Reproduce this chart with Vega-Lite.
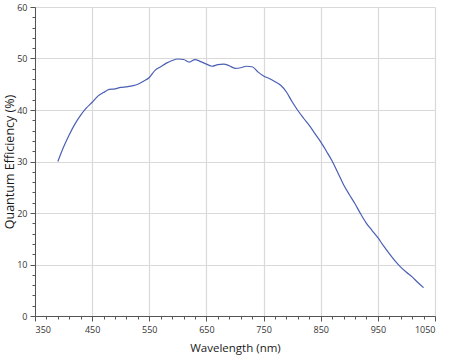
{
  "$schema": "https://vega.github.io/schema/vega-lite/v6.json",
  "width": 400,
  "height": 309,
  "autosize": {"type": "none"},
  "padding": {"left": 35, "top": 7, "right": 15, "bottom": 41},
  "background": "white",
  "config": {
    "view": {"stroke": null},
    "font": "Open Sans",
    "axis": {
      "labelFont": "Open Sans",
      "titleFont": "Open Sans",
      "labelFontSize": 9,
      "labelColor": "#333333",
      "titleColor": "#1a1a1a",
      "titleFontSize": 12,
      "titleFontWeight": "normal",
      "domainColor": "#555555",
      "tickColor": "#555555",
      "gridColor": "#d9d9d9",
      "gridWidth": 1.2
    }
  },
  "data": {
    "values": [
      {"nm": 390, "qe": 30.0}, {"nm": 400, "qe": 32.8}, {"nm": 410, "qe": 35.2},
      {"nm": 420, "qe": 37.3}, {"nm": 430, "qe": 39.0}, {"nm": 440, "qe": 40.4},
      {"nm": 450, "qe": 41.5}, {"nm": 460, "qe": 42.7}, {"nm": 470, "qe": 43.4},
      {"nm": 480, "qe": 44.0}, {"nm": 490, "qe": 44.1}, {"nm": 500, "qe": 44.4},
      {"nm": 510, "qe": 44.5}, {"nm": 520, "qe": 44.7}, {"nm": 530, "qe": 45.0},
      {"nm": 540, "qe": 45.6}, {"nm": 550, "qe": 46.3}, {"nm": 560, "qe": 47.7},
      {"nm": 570, "qe": 48.4}, {"nm": 580, "qe": 49.1}, {"nm": 590, "qe": 49.6},
      {"nm": 600, "qe": 49.9}, {"nm": 610, "qe": 49.8}, {"nm": 620, "qe": 49.3},
      {"nm": 630, "qe": 49.8}, {"nm": 640, "qe": 49.4}, {"nm": 650, "qe": 48.9},
      {"nm": 660, "qe": 48.5}, {"nm": 670, "qe": 48.8}, {"nm": 680, "qe": 48.9},
      {"nm": 690, "qe": 48.6}, {"nm": 700, "qe": 48.1}, {"nm": 710, "qe": 48.2},
      {"nm": 720, "qe": 48.5}, {"nm": 730, "qe": 48.4}, {"nm": 740, "qe": 47.4},
      {"nm": 750, "qe": 46.6}, {"nm": 760, "qe": 46.1}, {"nm": 770, "qe": 45.5},
      {"nm": 780, "qe": 44.8}, {"nm": 790, "qe": 43.5}, {"nm": 800, "qe": 41.6},
      {"nm": 810, "qe": 39.9}, {"nm": 820, "qe": 38.4}, {"nm": 830, "qe": 37.0},
      {"nm": 840, "qe": 35.4}, {"nm": 850, "qe": 33.8}, {"nm": 860, "qe": 32.0},
      {"nm": 870, "qe": 30.1}, {"nm": 880, "qe": 27.8}, {"nm": 890, "qe": 25.5},
      {"nm": 900, "qe": 23.6}, {"nm": 910, "qe": 21.8}, {"nm": 920, "qe": 19.8},
      {"nm": 930, "qe": 18.0}, {"nm": 940, "qe": 16.6}, {"nm": 950, "qe": 15.2},
      {"nm": 960, "qe": 13.6}, {"nm": 970, "qe": 12.1}, {"nm": 980, "qe": 10.7},
      {"nm": 990, "qe": 9.5}, {"nm": 1000, "qe": 8.5}, {"nm": 1010, "qe": 7.6},
      {"nm": 1020, "qe": 6.5}, {"nm": 1030, "qe": 5.5}
    ]
  },
  "resolve": {"axis": {"x": "independent", "y": "independent"}},
  "layer": [
    {
      "mark": {"type": "line", "opacity": 0},
      "encoding": {
        "x": {
          "field": "nm", "type": "quantitative",
          "scale": {"domain": [350, 1050], "nice": false, "zero": false},
          "axis": {
            "orient": "bottom", "values": [370,390,410,430,470,490,510,530,570,590,610,630,670,690,710,730,770,790,810,830,870,890,910,930,970,990,1010,1030],
            "labels": false, "grid": false, "domain": false, "tickSize": 3, "title": null
          }
        },
        "y": {
          "field": "qe", "type": "quantitative",
          "scale": {"domain": [0, 60], "nice": false},
          "axis": {
            "orient": "left", "values": [2,4,6,8,12,14,16,18,22,24,26,28,32,34,36,38,42,44,46,48,52,54,56,58],
            "labels": false, "grid": false, "domain": false, "tickSize": 3, "title": null
          }
        }
      }
    },
    {
      "mark": {"type": "line", "color": "#4a5fb4", "strokeWidth": 1.2, "interpolate": "monotone"},
      "encoding": {
        "x": {
          "field": "nm", "type": "quantitative",
          "scale": {"domain": [350, 1050], "nice": false, "zero": false},
          "axis": {
            "orient": "bottom", "values": [350,450,550,650,750,850,950,1050],
            "format": "d", "grid": true,
            "title": "Wavelength (nm)", "titleFontSize": 11.5, "tickSize": 5, "labelPadding": 4, "titlePadding": 8
          }
        },
        "y": {
          "field": "qe", "type": "quantitative",
          "scale": {"domain": [0, 60], "nice": false},
          "axis": {
            "orient": "left", "values": [0,10,20,30,40,50,60],
            "format": "d", "grid": true,
            "title": "Quantum Efficiency (%)", "titleFontSize": 12.5,
            "titleX": -26, "titleBaseline": "middle", "titleAnchor": "middle",
            "tickSize": 5, "labelPadding": 3
          }
        }
      }
    }
  ]
}
